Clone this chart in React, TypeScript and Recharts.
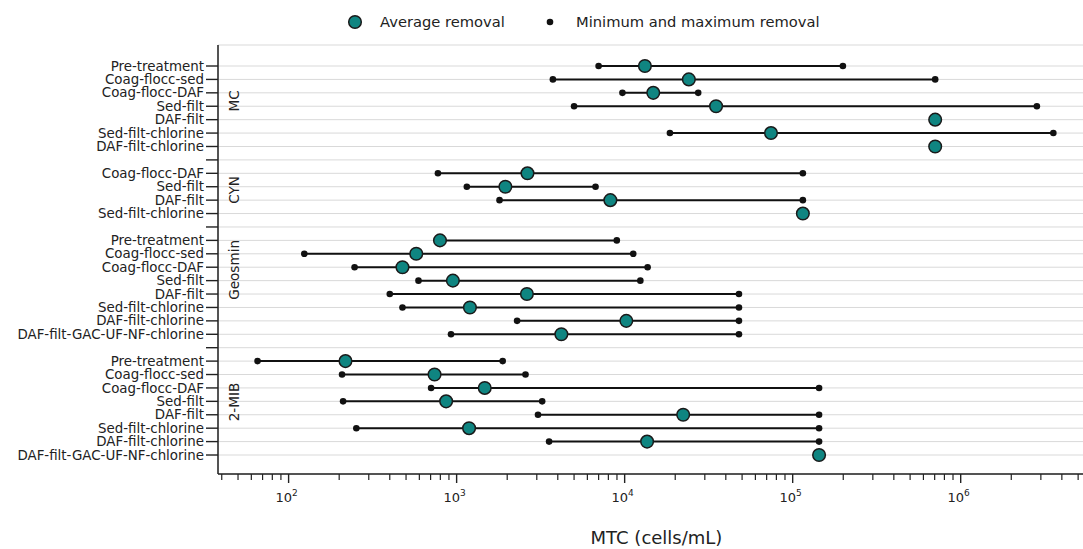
import React from 'react';
import { ComposedChart, Scatter, XAxis, YAxis, CartesianGrid, ReferenceDot } from 'recharts';

// row labels, top to bottom ('' = spacer row between groups)
const categories = [
  'Pre-treatment', 'Coag-flocc-sed', 'Coag-flocc-DAF', 'Sed-filt', 'DAF-filt', 'Sed-filt-chlorine', 'DAF-filt-chlorine',
  '',
  'Coag-flocc-DAF', 'Sed-filt', 'DAF-filt', 'Sed-filt-chlorine',
  '',
  'Pre-treatment', 'Coag-flocc-sed', 'Coag-flocc-DAF', 'Sed-filt', 'DAF-filt', 'Sed-filt-chlorine', 'DAF-filt-chlorine', 'DAF-filt-GAC-UF-NF-chlorine',
  '',
  'Pre-treatment', 'Coag-flocc-sed', 'Coag-flocc-DAF', 'Sed-filt', 'DAF-filt', 'Sed-filt-chlorine', 'DAF-filt-chlorine', 'DAF-filt-GAC-UF-NF-chlorine',
];

const groupNames = ['MC', 'CYN', 'Geosmin', '2-MIB'];

// MTC values, cells/mL
const avgRemoval = [
  13200, 24100, 14800, 35000, 705000, 74300, 705000,
  null,
  2640, 1950, 8220, 115000,
  null,
  796, 575, 476, 950, 2620, 1200, 10230, 4200,
  null,
  218, 739, 1470, 866, 22300, 1186, 13600, 143600,
];

const minRemoval = [
  7000, 3740, 9700, 5000, null, 18600, null,
  null,
  774, 1150, 1800, null,
  null,
  796, 124, 247, 593, 400, 476, 2290, 926,
  null,
  65.3, 208, 705, 211, 3050, 253, 3550, null,
];

const maxRemoval = [
  199000, 705000, 27400, 2840000, null, 3560000, null,
  null,
  115000, 6710, 115000, null,
  null,
  8980, 11250, 13700, 12400, 47900, 47900, 47900, 47900,
  null,
  1880, 2570, 143600, 3230, 143600, 143600, 143600, null,
];

const majorTicks = [100, 1000, 10000, 100000, 1000000];
const majorExponents = ['2', '3', '4', '5', '6'];

const X_DOMAIN: [number, number] = [38, 6.3e6];
const Y_DOMAIN: [number, number] = [-1.566, 30.416];
const groupLabelX = 47.3;
const groupLabelRows = [2.6, 9.24, 15.2, 25.05];

const TEAL = '#0f8581';
const FONT = '"DejaVu Sans", sans-serif';

const minorTicks: number[] = [];
for (let d = 1; d <= 6; d++) {
  for (let m = 2; m <= 9; m++) {
    const v = m * Math.pow(10, d);
    if (v >= X_DOMAIN[0] && v <= X_DOMAIN[1]) minorTicks.push(v);
  }
}
const allXTicks = [...majorTicks, ...minorTicks].sort((a, b) => a - b);

const avgData = categories
  .map((c, i) => ({ x: avgRemoval[i], y: i }))
  .filter((d) => d.x != null);

const rangeRows = categories
  .map((c, i) => ({ i, min: minRemoval[i], max: maxRemoval[i] }))
  .filter((r) => r.min != null && r.max != null);

const XTick = (props: any) => {
  const { x, y, payload } = props;
  const idx = majorTicks.indexOf(payload.value);
  const major = idx >= 0;
  return (
    <g>
      <line x1={x} x2={x} y1={y} y2={y + (major ? 9 : 6)} stroke="#222" strokeWidth={major ? 1.4 : 1.2} />
      {major && (
        <text x={x - 2} y={y + 28} textAnchor="middle" fontFamily={FONT} fontSize={13} fill="#222">
          10
          <tspan dy={-6} fontSize={9}>{majorExponents[idx]}</tspan>
        </text>
      )}
    </g>
  );
};

const YTick = (props: any) => {
  const { x, y, payload } = props;
  return (
    <g>
      <line x1={x} x2={x + 12} y1={y} y2={y} stroke="#222" strokeWidth={1.4} />
      <text x={x - 2} y={y} dy={4.6} textAnchor="end" fontFamily={FONT} fontSize={13.4} fill="#222">
        {categories[payload.value]}
      </text>
    </g>
  );
};

const AvgDot = (props: any) => (
  <circle cx={props.cx} cy={props.cy} r={6.3} fill={TEAL} stroke="#1a1a1a" strokeWidth={1.5} />
);

const MinMaxDot = (props: any) => <circle cx={props.cx} cy={props.cy} r={3.3} fill="#111" />;

const LegendBox = () => (
  <svg width={1083} height={40} style={{ position: 'absolute', left: 0, top: 0 }}>
    <circle cx={355} cy={22} r={6.3} fill={TEAL} stroke="#1a1a1a" strokeWidth={1.5} />
    <text x={380} y={27} fontFamily={FONT} fontSize={14.7} fill="#222">Average removal</text>
    <circle cx={550} cy={22} r={3.3} fill="#111" />
    <text x={576} y={27} fontFamily={FONT} fontSize={14.7} fill="#222">Minimum and maximum removal</text>
  </svg>
);

export default function App() {
  return (
    <div style={{ width: 1083, height: 549, overflow: 'hidden', background: '#fff', position: 'relative' }}>
      <style>{'body{margin:0}'}</style>
      <ComposedChart width={1105} height={549} margin={{ top: 45, right: 10, bottom: 0, left: 0 }}>
        <CartesianGrid xAxisId="top" stroke="#d9d9d9" strokeWidth={1} />
        <XAxis
          xAxisId="top"
          orientation="top"
          type="number"
          scale="log"
          domain={X_DOMAIN}
          allowDataOverflow
          ticks={majorTicks}
          tick={false}
          tickLine={false}
          height={0}
          axisLine={{ stroke: '#222', strokeWidth: 1.5 }}
        />
        <XAxis
          dataKey="x"
          type="number"
          scale="log"
          domain={X_DOMAIN}
          allowDataOverflow
          ticks={allXTicks}
          interval={0}
          tick={<XTick />}
          tickLine={false}
          tickSize={0}
          tickMargin={0}
          height={75}
          axisLine={{ stroke: '#222', strokeWidth: 1.5 }}
          label={{ value: 'MTC (cells/mL)', position: 'insideBottom', offset: 5, fontFamily: FONT, fontSize: 18, fill: '#222' }}
        />
        <YAxis
          dataKey="y"
          type="number"
          domain={Y_DOMAIN}
          reversed
          allowDataOverflow
          ticks={categories.map((c, i) => i)}
          interval={0}
          width={218}
          tick={<YTick />}
          tickLine={false}
          tickSize={12}
          tickMargin={0}
          axisLine={{ stroke: '#222', strokeWidth: 1.5 }}
        />
        {rangeRows.map((r) => (
          <Scatter
            key={`range-${r.i}`}
            name={`range-${r.i}`}
            legendType="none"
            data={[{ x: r.min, y: r.i }, { x: r.max, y: r.i }]}
            line={{ stroke: '#111', strokeWidth: 2 }}
            lineType="joint"
            shape={<MinMaxDot />}
            isAnimationActive={false}
          />
        ))}
        <Scatter name="Average removal" data={avgData} shape={<AvgDot />} isAnimationActive={false} />
        {groupNames.map((g, i) => (
          <ReferenceDot
            key={g}
            x={groupLabelX}
            y={groupLabelRows[i]}
            r={0}
            ifOverflow="visible"
            shape={(p: any) => (
              <text
                x={p.cx}
                y={p.cy}
                transform={`rotate(-90 ${p.cx} ${p.cy})`}
                textAnchor="middle"
                dominantBaseline="central"
                fontFamily={FONT}
                fontSize={13.6}
                fill="#222"
              >
                {g}
              </text>
            )}
          />
        ))}
      </ComposedChart>
      <LegendBox />
    </div>
  );
}
